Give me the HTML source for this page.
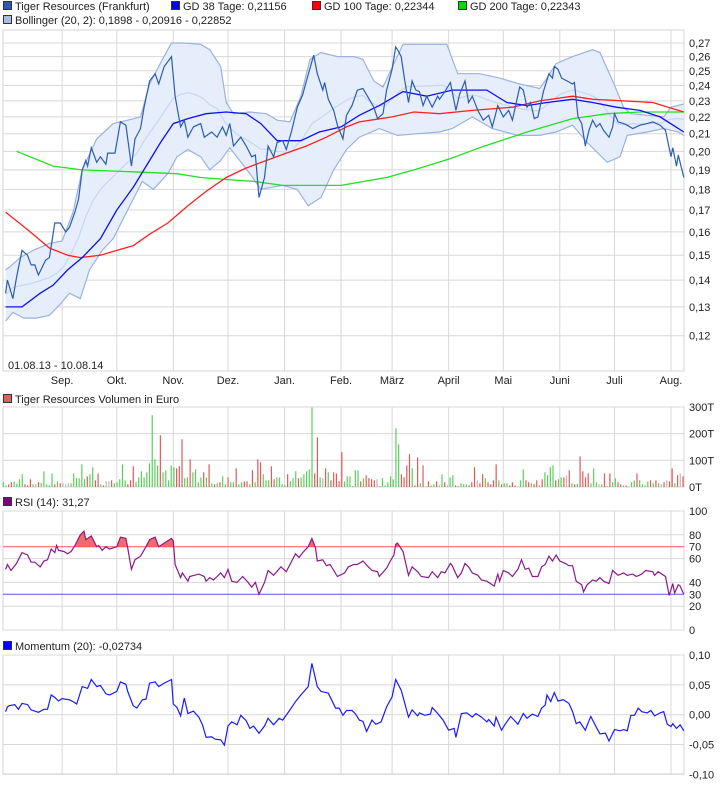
<!DOCTYPE html>
<html><head><meta charset="utf-8"><style>
body{margin:0;background:#fff;width:726px;height:784px;overflow:hidden;font-family:"Liberation Sans",sans-serif}
svg text{font-family:"Liberation Sans",sans-serif;font-size:11px;fill:#222}
</style></head><body>
<svg id="c" width="726" height="784" xmlns="http://www.w3.org/2000/svg"></svg>
<script>
// ---- data ----
const monthLabels=["Sep.","Okt.","Nov.","Dez.","Jan.","Feb.","März","April","Mai","Juni","Juli","Aug."];
const monthDays=[31,61,92,122,153,184,212,243,273,304,334,365];
const priceTicks=[0.12,0.13,0.14,0.15,0.16,0.17,0.18,0.19,0.20,0.21,0.22,0.23,0.24,0.25,0.26,0.27];
const priceDays=[0,1,4,6,9,12,14,16,18,22,24,27,30,33,35,38,40,42,44,45,47,50,52,55,56,60,63,66,69,71,74,76,79,82,84,87,91,93,96,98,100,103,107,109,113,116,119,121,123,125,129,132,135,137,139,142,144,147,149,152,154,157,160,163,165,169,171,174,175,177,180,182,185,187,190,193,196,199,202,204,207,209,212,214,215,217,219,221,223,225,227,229,231,234,237,238,241,244,247,249,252,254,256,259,262,265,267,270,273,276,278,282,284,286,288,290,292,295,298,300,301,303,305,308,311,312,314,316,318,320,322,324,326,328,331,333,334,336,339,341,344,348,352,355,359,362,365,366,368,369,372];
const priceVals=[.135,.140,.133,.141,.152,.150,.146,.146,.142,.148,.149,.164,.164,.160,.162,.169,.175,.190,.195,.192,.202,.194,.197,.193,.199,.199,.217,.215,.192,.207,.213,.226,.243,.248,.241,.253,.260,.233,.214,.218,.208,.214,.216,.208,.211,.208,.214,.209,.216,.203,.208,.203,.197,.198,.176,.186,.203,.197,.205,.206,.201,.212,.226,.234,.243,.261,.248,.237,.242,.231,.224,.215,.207,.221,.227,.237,.238,.232,.226,.219,.222,.237,.251,.267,.265,.260,.243,.229,.243,.237,.236,.227,.233,.226,.233,.231,.236,.242,.224,.234,.243,.229,.233,.224,.218,.221,.214,.227,.220,.224,.218,.239,.237,.226,.229,.219,.220,.236,.248,.245,.253,.251,.245,.243,.241,.242,.220,.216,.203,.212,.218,.214,.216,.212,.208,.214,.222,.217,.216,.215,.213,.215,.216,.217,.215,.212,.197,.202,.192,.198,.186];
const gd38Days=[0,9,19,26,34,42,52,61,70,79,85,92,100,110,121,132,140,149,162,172,184,194,205,218,231,245,264,275,286,297,311,322,335,348,359,372];
const gd38Vals=[.130,.130,.135,.138,.144,.149,.157,.170,.181,.195,.205,.216,.219,.222,.223,.222,.216,.206,.206,.211,.214,.221,.227,.236,.233,.237,.237,.229,.227,.229,.231,.229,.226,.224,.220,.211];
const gd100Days=[0,12,24,34,41,52,61,70,79,89,100,110,121,132,143,154,165,176,187,194,212,224,238,256,278,293,311,322,339,355,372];
const gd100Vals=[.169,.161,.153,.150,.149,.150,.152,.154,.159,.164,.172,.179,.186,.191,.195,.199,.203,.208,.214,.217,.220,.223,.222,.224,.226,.230,.233,.231,.230,.229,.223];
const gd200Days=[6,26,42,70,94,107,121,136,152,169,184,209,224,244,260,286,311,330,348,372];
const gd200Vals=[.200,.192,.190,.189,.188,.186,.185,.184,.182,.182,.182,.186,.190,.196,.202,.211,.219,.222,.223,.223];
const bbUpDays=[0,2,8,15,24,31,37,42,50,59,67,74,79,86,91,97,107,112,118,121,125,134,143,149,156,162,167,173,182,191,196,202,207,213,218,242,248,260,271,282,293,297,302,311,322,326,333,339,343,352,361,365,372];
const bbUpVals=[.144,.145,.149,.152,.155,.156,.169,.190,.207,.216,.218,.220,.241,.258,.270,.270,.269,.265,.253,.229,.222,.223,.222,.218,.217,.233,.258,.263,.260,.260,.258,.243,.239,.255,.269,.269,.248,.248,.245,.241,.238,.245,.255,.260,.265,.263,.243,.226,.222,.221,.220,.226,.228];
const bbLoDays=[0,4,10,17,24,30,35,41,46,53,59,67,75,81,89,94,100,107,112,118,123,134,140,152,160,166,173,180,187,194,205,215,226,238,245,256,267,281,293,302,311,319,330,337,341,352,361,369,372];
const bbLoVals=[.125,.128,.126,.126,.127,.131,.135,.133,.144,.152,.157,.170,.184,.180,.188,.197,.201,.197,.190,.195,.202,.188,.180,.182,.180,.172,.176,.190,.201,.208,.213,.209,.210,.211,.213,.220,.213,.209,.209,.211,.215,.205,.194,.197,.209,.211,.213,.211,.209];
const volTicks=[0,100,200,300];
const volVals=[
19,6,10,18,21,13,29,48,10,6, 29,10,10,18,15,59,10,6,51,10, 21,14,14,10,14,14,51,33,33,85, 29,40,48,74,25,51,10,6,21,21,
25,14,18,29,85,25,10,25,78,18, 36,59,36,55,89,269,104,81,194,55, 63,25,81,74,70,78,179,33,36,104, 55,66,18,36,55,36,85,14,10,14,
18,40,10,36,18,18,70,10,18,21, 21,10,63,18,104,93,48,25,25,78, 29,36,36,10,6,48,21,33,59,33, 36,48,59,66,298,51,186,36,33,70, 55,25,55,51,21,
131,21,40,40,3,63,63,21,33,44, 33,29,25,29,3,33,6,18,40,29, 220,160,48,36,81,123,70,6,111,14, 81,3,21,6,10,21,6,48,18,6,
36,44,6,3,14,10,10,6,18,74, 25,14,48,33,18,10,25,85,25,10, 14,14,6,18,6,3,25,66,25,18, 14,10,25,6,29,55,44,74,81,25,
29,36,36,44,63,14,10,13,115,59, 36,51,14,70,18,10,10,51,3,51, 18,33,18,10,6,6,3,18,25,51, 25,10,6,21,25,14,25,14,10,18, 25,21,70,14,44,51,40];
const volDir=[
'g','g','r','r','g','g','g','g','r','r', 'r','g','n','r','g','g','g','g','g','r', 'g','r','n','n','n','g','g','g','g','g', 'g','r','g','g','r','r','g','r','n','n',
'r','g','g','g','g','g','r','r','r','g', 'g','g','g','g','g','g','g','g','r','g', 'g','g','g','g','r','r','r','g','g','r', 'g','g','g','g','r','g','r','g','r','g',
'r','g','g','r','g','g','r','g','g','r', 'r','g','r','g','r','r','g','g','g','r', 'r','g','g','g','g','r','g','g','g','r', 'g','g','g','g','g','r','r','g','n','r', 'g','r','r','r','r',
'r','g','g','g','r','g','g','r','g','r', 'r','r','r','n','r','g','g','g','g','g', 'g','g','r','r','r','r','g','r','r','g', 'r','n','r','g','g','r','g','g','r','n',
'g','g','r','r','g','g','g','r','r','r', 'n','r','r','g','r','r','r','r','g','r', 'g','g','r','r','r','n','g','g','r','r', 'g','r','r','g','r','g','g','g','g','r',
'g','g','r','n','r','g','r','g','r','r', 'r','r','g','g','g','n','g','r','r','r', 'g','g','r','r','g','r','n','g','g','r', 'g','g','g','g','r','g','r','g','n','r', 'n','r','r','g','r','n','r'];
const rsiTicks=[0,20,40,60,80,100];
const rsiDays=[0,1,3,6,9,12,14,16,19,21,23,25,27,28,29,32,34,36,38,41,43,44,47,50,51,53,55,57,61,63,66,67,69,71,74,77,79,82,84,87,91,92,93,96,97,100,101,106,109,110,112,114,116,118,120,122,124,127,130,133,135,137,139,142,144,147,151,154,157,159,161,163,166,168,170,171,174,176,178,182,186,188,191,193,196,199,201,204,205,209,211,213,214,215,218,221,223,226,228,232,234,237,239,241,244,245,248,250,252,254,256,259,261,264,266,268,270,271,273,276,278,281,283,285,287,289,292,294,296,298,300,302,304,307,309,311,313,316,317,319,322,324,326,328,331,333,336,339,341,344,346,349,351,355,356,358,362,364,366,367,369,370,372];
const rsiVals=[51,55,50,56,65,63,57,57,53,58,59,68,65,71,67,66,64,66,71,80,83,76,79,70,71,67,70,68,70,78,77,69,51,59,62,70,76,78,70,73,77,75,55,44,48,41,45,47,45,41,44,42,45,48,44,51,41,40,45,40,36,40,30,40,50,46,53,49,58,64,61,65,70,77,69,58,59,54,55,45,48,53,55,55,58,53,50,49,45,52,58,63,72,73,66,46,53,49,45,44,49,44,49,48,56,54,44,48,56,53,48,46,42,41,39,37,47,41,50,48,45,51,59,51,52,45,45,53,55,62,58,63,58,56,54,54,41,38,32,38,42,41,44,41,39,50,46,48,46,47,45,47,50,49,46,49,45,29,39,31,38,37,30];
const momTicks=[-0.10,-0.05,0.00,0.05,0.10];
const momDays=[0,1,2,5,7,9,12,14,18,21,23,25,27,29,31,35,37,39,42,45,47,50,52,55,57,61,63,66,67,70,72,75,77,79,82,84,87,91,92,94,96,98,100,103,106,108,110,113,115,118,120,122,124,127,129,132,134,136,139,142,144,147,150,152,156,159,162,166,168,171,173,177,181,183,185,187,190,192,194,196,198,201,203,206,209,212,214,217,219,221,223,226,227,230,233,234,237,240,243,246,247,250,253,256,258,261,264,265,268,269,272,274,277,279,281,284,286,289,292,294,296,297,299,301,303,306,309,311,313,315,318,320,321,324,326,329,331,334,337,339,341,343,345,347,349,352,354,356,359,361,363,365,366,368,370,372];
const momVals=[.005,.013,.015,.017,.009,.019,.017,.008,.004,.009,.009,.033,.029,.023,.027,.025,.022,.018,.047,.044,.059,.047,.049,.035,.033,.039,.055,.051,.039,.015,.011,.025,.026,.053,.055,.047,.053,.059,.018,.012,-.002,.028,.002,.006,-.004,-.017,-.038,-.037,-.041,-.042,-.051,-.019,-.012,-.017,-.001,-.010,-.023,-.019,-.031,-.019,-.006,-.017,-.006,-.009,.008,.022,.033,.047,.086,.047,.039,.036,.011,.011,-.001,.007,.007,.001,-.009,-.011,-.028,-.009,-.016,-.012,.013,.030,.059,.041,.019,-.004,.008,-.002,.003,-.001,.001,.012,.002,-.009,-.026,-.023,-.038,.002,.003,-.004,.002,-.004,-.012,-.008,-.019,-.004,-.026,-.016,-.003,-.009,-.016,.002,-.006,.001,-.003,.011,.016,.033,.022,.037,.023,.025,.019,.005,-.015,-.012,-.026,-.010,-.003,-.021,-.032,-.031,-.044,-.025,-.027,-.025,-.027,-.001,-.001,.011,.005,.003,.007,-.002,.003,.005,-.016,-.020,-.015,-.023,-.017,-.027];

// ---- helpers ----
const NS="http://www.w3.org/2000/svg", svg=document.getElementById('c');
function el(t,a,p){const e=document.createElementNS(NS,t);for(const k in a)e.setAttribute(k,a[k]);(p||svg).appendChild(e);return e;}
const L=3,R=684;
const xDay=d=>5.6+d*1.823;
const yPrice=v=>43+361*Math.log(0.27/v);
const yVol=v=>487-v*0.2667;
const yRsi=v=>630-v*1.19;
const yMom=v=>714.7-v*597;
function pts(days,vals,fy){return days.map((d,i)=>xDay(d).toFixed(1)+','+fy(vals[i]).toFixed(1)).join(' ');}
function panel(name,top,bot){
  const g=el('g',{});
  
  
  el('rect',{x:L,y:top,width:R-L,height:bot-top,fill:'#fff',stroke:'#d4d4d4','stroke-width':1},g);
  monthDays.forEach(d=>{const x=xDay(d);el('line',{x1:x,x2:x,y1:top,y2:bot,stroke:'#d8d8d8'},g);});
  return g;
}
function hgrid(g,y){el('line',{x1:L,x2:R,y1:y,y2:y,stroke:'#d8d8d8'},g);}
function ylab(g,y,t,col){const e=el('text',{x:689,y:y+4,fill:col||'#222'},g);e.textContent=t;return e;}
function legend(x,y,col,txt,name){
  const g=el('g',{});
  
  
  el('rect',{x:x+0.5,y:y-8.5,width:8,height:8,fill:col,stroke:'#333','stroke-width':1},g);
  const t=el('text',{x:x+12,y:y},g);t.textContent=txt;
}
const fmt=v=>v.toFixed(2).replace('.',',');

// legends
legend(3,10,'#2a5db0','Tiger Resources (Frankfurt)','legend-price');
legend(171,10,'#0000ff','GD 38 Tage: 0,21156','legend-gd38');
legend(312,10,'#ff0000','GD 100 Tage: 0,22344','legend-gd100');
legend(458,10,'#00dd00','GD 200 Tage: 0,22343','legend-gd200');
legend(3,24,'#a8bce6','Bollinger (20, 2): 0,1898 - 0,20916 - 0,22852','legend-bollinger');

// main panel
const gm=panel('price-panel',30,371);
priceTicks.forEach(v=>{hgrid(gm,yPrice(v));ylab(gm,yPrice(v),fmt(v));});
const bbPoly=el('polygon',{points:pts(bbUpDays,bbUpVals,yPrice)+' '+pts(bbLoDays.slice().reverse(),bbLoVals.slice().reverse(),yPrice),fill:'#e6eefc',stroke:'none'},gm);


function interp(days,vals,d){if(d<=days[0])return vals[0];for(let i=1;i<days.length;i++)if(d<=days[i]){const t=(d-days[i-1])/(days[i]-days[i-1]);return vals[i-1]+t*(vals[i]-vals[i-1]);}return vals[vals.length-1];}
const midDays=[];for(let d=0;d<=372;d+=4)midDays.push(d);
const midVals=midDays.map(d=>(interp(bbUpDays,bbUpVals,d)+interp(bbLoDays,bbLoVals,d))/2);
const mid=el('polyline',{points:pts(midDays,midVals,yPrice),fill:'none',stroke:'#c6d6f2','stroke-width':1.2},gm);


const bu=el('polyline',{points:pts(bbUpDays,bbUpVals,yPrice),fill:'none',stroke:'#9cb1df','stroke-width':1.2},gm);


const bl=el('polyline',{points:pts(bbLoDays,bbLoVals,yPrice),fill:'none',stroke:'#9cb1df','stroke-width':1.2},gm);


const g200=el('polyline',{points:pts(gd200Days,gd200Vals,yPrice),fill:'none',stroke:'#22e022','stroke-width':1.3},gm);


const g100=el('polyline',{points:pts(gd100Days,gd100Vals,yPrice),fill:'none',stroke:'#ff2020','stroke-width':1.3},gm);


const g38=el('polyline',{points:pts(gd38Days,gd38Vals,yPrice),fill:'none',stroke:'#1010ee','stroke-width':1.3},gm);


const pl=el('polyline',{points:pts(priceDays,priceVals,yPrice),fill:'none',stroke:'#2a5db0','stroke-width':1.2},gm);


const dr=el('text',{x:8,y:369,fill:'#999'},gm);dr.textContent='01.08.13 - 10.08.14';


monthLabels.forEach((m,i)=>{const t=el('text',{x:xDay(monthDays[i]),y:384,'text-anchor':'middle'});t.textContent=m;

});

// volume
legend(3,403,'#e06060','Tiger Resources Volumen in Euro','legend-volume');
const gv=panel('volume-panel',407,487);
volTicks.forEach(v=>{hgrid(gv,yVol(v));ylab(gv,yVol(v),v+'T');});
const vn=volVals.length;
volVals.forEach((v,i)=>{const x=3.3+i*(679.7/(vn-1));const c=volDir[i]==='g'?'#5ad05a':volDir[i]==='r'?'#e05a5a':'#b8b8b8';
const b=el('rect',{x:x-0.6,y:yVol(v),width:1.2,height:487-yVol(v),fill:c},gv);

});

// RSI
legend(3,506,'#800080','RSI (14): 31,27','legend-rsi');
const gr=panel('rsi-panel',511,630);
rsiTicks.forEach(v=>{hgrid(gr,yRsi(v));ylab(gr,yRsi(v),String(v));});
const clip=el('clipPath',{id:'above70'},gr);el('rect',{x:L,y:511,width:R-L,height:yRsi(70)-511},clip);
const rp=pts(rsiDays,rsiVals,yRsi);
const rf=el('polygon',{points:xDay(rsiDays[0])+','+yRsi(70)+' '+rp+' '+xDay(rsiDays[rsiDays.length-1])+','+yRsi(70),fill:'#f26a6a','clip-path':'url(#above70)'},gr);


el('line',{x1:L,x2:R,y1:yRsi(70),y2:yRsi(70),stroke:'#ff5555'},gr);
el('line',{x1:L,x2:R,y1:yRsi(30),y2:yRsi(30),stroke:'#5555ee'},gr);
ylab(gr,yRsi(70),'70','#ff6666');ylab(gr,yRsi(30),'30','#6666ff');
const rl=el('polyline',{points:rp,fill:'none',stroke:'#8a1a8a','stroke-width':1.2},gr);



// Momentum
legend(3,650,'#0000ff','Momentum (20): -0,02734','legend-momentum');
const go=panel('momentum-panel',655,774);
momTicks.forEach(v=>{hgrid(go,yMom(v));ylab(go,yMom(v),v.toFixed(2).replace('.',','));});
const ml=el('polyline',{points:pts(momDays,momVals,yMom),fill:'none',stroke:'#1a1aff','stroke-width':1.2},go);


</script>
</body></html>
